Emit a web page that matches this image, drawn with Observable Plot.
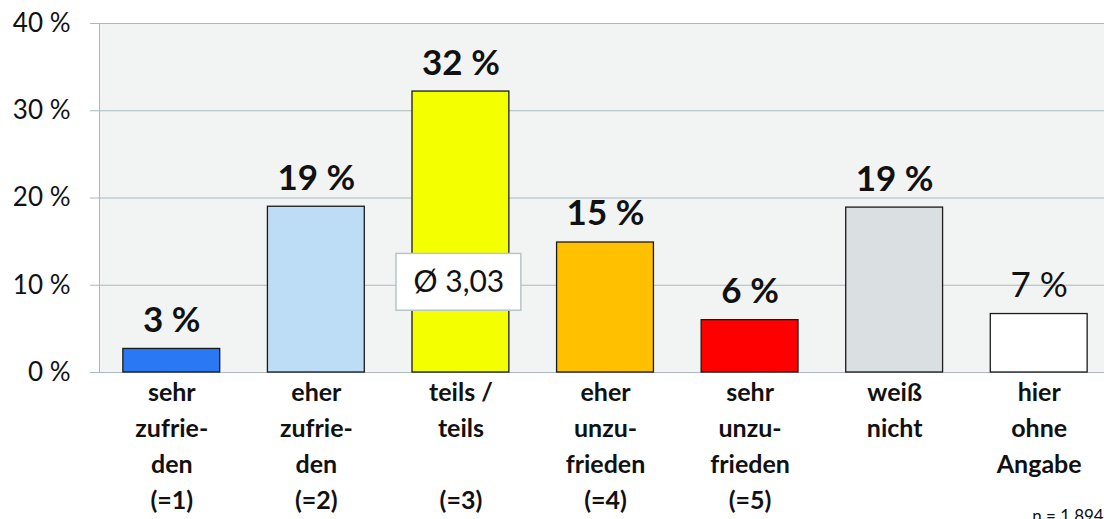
<!DOCTYPE html>
<html><head><meta charset="utf-8">
<script src="https://cdn.jsdelivr.net/npm/d3@7"></script>
<script src="https://cdn.jsdelivr.net/npm/@observablehq/plot@0.6"></script>
<style>html,body{margin:0;padding:0;background:#fff;overflow:hidden;width:1104px;height:519px}#chart svg{max-width:none !important}</style>
</head><body><div id="chart"></div>
<script>
const categories = ["sehr\nzufrie-\nden\n(=1)", "eher\nzufrie-\nden\n(=2)", "teils /\nteils\n\n(=3)", "eher\nunzu-\nfrieden\n(=4)", "sehr\nunzu-\nfrieden\n(=5)", "weiß\nnicht", "hier\nohne\nAngabe"];
const values = [2.7, 19.0, 32.2, 14.9, 6.0, 18.9, 6.7];
const valueLabels = ["3 %", "19 %", "32 %", "15 %", "6 %", "19 %", "7 %"];
const barColors = ["#2a78f4", "#bddcf6", "#f4ff00", "#ffc000", "#ff0000", "#dadfe1", "#ffffff"];
const boldLabel = [true, true, true, true, true, true, false];
const yTicks = [0, 10, 20, 30, 40];
const meanLabel = "Ø 3,03";
const sampleNote = "n = 1.894";

const data = categories.map((c, i) => ({cat: c, value: values[i], label: valueLabels[i], color: barColors[i], bold: boldLabel[i]}));
const font = "Lato, 'Open Sans', sans-serif";
const gridColor = "#a9babd";

const chart = Plot.plot({
  width: 1111, height: 519,
  marginTop: 23, marginBottom: 147, marginLeft: 99, marginRight: 0,
  style: {fontFamily: font, color: "#111", background: "#fff", overflow: "visible", maxWidth: "none"},
  x: {domain: categories, paddingInner: 0.33, paddingOuter: 0.165, round: false, axis: null},
  y: {domain: [0, 40], axis: null},
  color: {type: "identity"},
  marks: [
    Plot.frame({fill: "#f2f4f4", stroke: gridColor}),
    Plot.gridY(yTicks, {stroke: gridColor, strokeOpacity: 1}),
    Plot.axisY(yTicks, {tickSize: 9, tickPadding: 20, tickFormat: d => d + " %", fontSize: 26, stroke: gridColor, fill: "#111", label: null}),
    Plot.barY(data, {x: "cat", y: "value", fill: "color", stroke: "#1a1a1a", strokeWidth: 1.3}),
    Plot.text(data.filter(d => d.bold), {x: "cat", y: "value", text: "label", lineAnchor: "bottom", dy: -17, fontSize: 35, fontWeight: "bold", fill: "#111"}),
    Plot.text(data.filter(d => !d.bold), {x: "cat", y: "value", text: "label", lineAnchor: "bottom", dy: -17, fontSize: 35, fill: "#111"}),
    Plot.text(data, {x: "cat", y: 0, text: "cat", lineAnchor: "top", dy: 3, fontSize: 25, fontWeight: "bold", lineHeight: 1.44, fill: "#111"}),
    Plot.barY([meanLabel], {x: () => categories[2], y1: 7.08, y2: 13.59, fill: "#fff", stroke: "#b8c4c6", strokeWidth: 1.5, insetLeft: -16, insetRight: -12}),
    Plot.text([meanLabel], {x: () => categories[2], y: 10.34, text: d => d, fontSize: 30, dx: -2, fill: "#111"}),
    Plot.text([sampleNote], {x: () => categories[6], y: 0, text: d => d, textAnchor: "start", lineAnchor: "bottom", dx: -7, dy: 149, fontSize: 17, fill: "#111"})
  ]
});
document.getElementById("chart").appendChild(chart);
</script>
</body></html>
